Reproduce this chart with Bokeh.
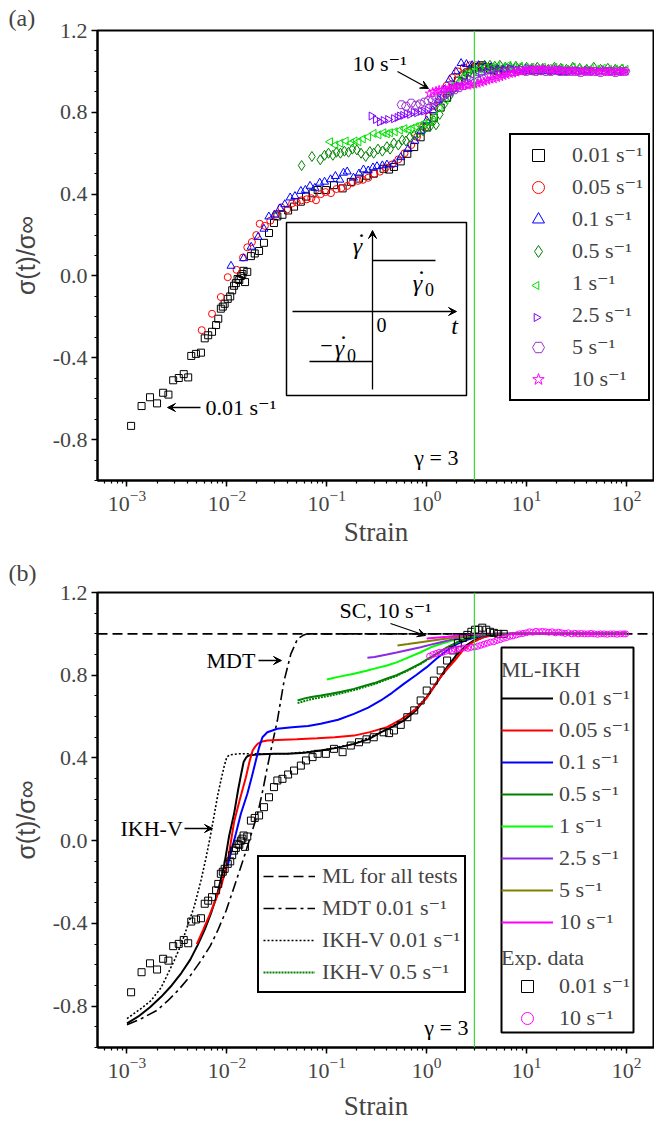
import numpy as np
from bokeh.plotting import figure
from bokeh.layouts import column
from bokeh.models import (Range1d, LogTicker, FixedTicker, CustomJSTickFormatter,
                          Span, Label, Arrow, VeeHead, Legend, LegendItem, BoxAnnotation)
from bokeh.embed import file_html
from bokeh.resources import INLINE

SERIF = "Liberation Serif, DejaVu Serif, serif"
SANS = "Liberation Sans"

# ---------------------------------------------------------------- data
rate_labels = ["0.01 s⁻¹", "0.05 s⁻¹", "0.1 s⁻¹", "0.5 s⁻¹", "1 s⁻¹", "2.5 s⁻¹", "5 s⁻¹", "10 s⁻¹"]

exp_001_x = [0.0011, 0.0014, 0.0017, 0.0020, 0.0023, 0.0026, 0.0029, 0.0033, 0.0037, 0.0041,
             0.0044, 0.0049, 0.0055, 0.0060, 0.0065, 0.0071, 0.0078, 0.0082, 0.0087, 0.0091,
             0.0095, 0.0102, 0.0108, 0.0113, 0.0118, 0.0123, 0.0128, 0.0133, 0.0138, 0.0143,
             0.0147, 0.0152, 0.0160, 0.0174, 0.0190, 0.0210, 0.0235, 0.0264, 0.0296, 0.032,
             0.036, 0.041, 0.047, 0.055, 0.062, 0.072, 0.081, 0.098, 0.118, 0.144,
             0.174, 0.21, 0.25, 0.295, 0.37, 0.42, 0.47, 0.55, 0.64, 0.75,
             0.87, 1.0, 1.18, 1.38, 1.6, 1.82, 2.05, 2.3, 2.55, 2.8,
             3.05, 3.3, 3.6, 3.95, 4.3, 4.7, 5.2, 5.9]
exp_001_y = [-0.733, -0.636, -0.593, -0.623, -0.571, -0.58, -0.51, -0.499, -0.48, -0.496,
             -0.391, -0.381, -0.375, -0.305, -0.29, -0.273, -0.24, -0.209, -0.16, -0.15,
             -0.136, -0.112, -0.10, -0.07, -0.048, -0.035, -0.015, -0.02, 0.0, 0.01,
             0.025, -0.03, 0.02, 0.097, 0.11, 0.122, 0.162, 0.21, 0.259, 0.291,
             0.299, 0.32, 0.339, 0.363, 0.388, 0.404, 0.42, 0.42, 0.444, 0.428,
             0.46, 0.476, 0.49, 0.5, 0.524, 0.52, 0.533, 0.56, 0.597, 0.63,
             0.678, 0.726, 0.774, 0.823, 0.871, 0.92, 0.955, 0.98, 0.995, 1.01,
             1.02, 1.02, 1.03, 1.02, 1.01, 1.005, 1.0, 1.0]

exp_005_x = [0.0056, 0.0071, 0.0087, 0.0102, 0.0125, 0.0145, 0.0160, 0.0178, 0.0197, 0.0213,
             0.0240, 0.0272, 0.031, 0.035, 0.040, 0.045, 0.050, 0.056, 0.063, 0.07,
             0.078, 0.087, 0.097, 0.11, 0.125, 0.14, 0.16, 0.18, 0.205, 0.23,
             0.26, 0.3, 0.34, 0.39, 0.45, 0.52, 0.6, 0.7, 0.8, 0.92,
             1.05, 1.2, 1.38, 1.58, 1.8, 2.05, 2.35, 2.7, 3.1, 3.6,
             4.2, 4.9, 5.8, 6.8, 8.0, 9.5, 11.5, 14, 17, 21, 26]
exp_005_y = [-0.265, -0.185, -0.103, -0.006, 0.03, 0.09, 0.14, 0.166, 0.2, 0.255,
             0.245, 0.27, 0.30, 0.335, 0.325, 0.355, 0.36, 0.37, 0.375, 0.38,
             0.37, 0.40, 0.41, 0.405, 0.425, 0.43, 0.44, 0.455, 0.465, 0.47,
             0.48, 0.5, 0.51, 0.53, 0.545, 0.57, 0.6, 0.64, 0.68, 0.73,
             0.78, 0.83, 0.88, 0.93, 0.97, 1.0, 1.02, 1.03, 1.03, 1.025,
             1.02, 1.015, 1.01, 1.01, 1.005, 1.0, 1.0, 1.0, 1.0, 1.0, 1.0]

exp_01_x = [0.011, 0.0147, 0.0175, 0.0205, 0.0235, 0.0263, 0.030, 0.034, 0.038, 0.043,
            0.048, 0.055, 0.061, 0.068, 0.076, 0.085, 0.095, 0.109, 0.122, 0.135,
            0.147, 0.16, 0.185, 0.21, 0.233, 0.26, 0.29, 0.318, 0.36, 0.4,
            0.47, 0.55, 0.65, 0.76, 0.88, 1.0, 1.15, 1.32, 1.5, 1.7,
            1.95, 2.21, 2.5, 2.85, 3.3, 3.8, 4.4, 5.1, 6.0, 7.0,
            8.3, 10, 12, 14.5, 18, 22, 27, 33, 40]
exp_01_y = [0.049, 0.086, 0.142, 0.19, 0.23, 0.29, 0.30, 0.33, 0.35, 0.383,
            0.39, 0.415, 0.42, 0.44, 0.43, 0.455, 0.46, 0.472, 0.488, 0.47,
            0.504, 0.51, 0.48, 0.50, 0.52, 0.515, 0.53, 0.536, 0.54, 0.544,
            0.547, 0.58, 0.62, 0.66, 0.71, 0.76, 0.81, 0.86, 0.91, 0.96,
            1.0, 1.04, 1.035, 1.03, 1.03, 1.02, 1.02, 1.015, 1.01, 1.01,
            1.005, 1.0, 1.0, 1.0, 1.0, 0.995, 1.0, 1.0, 1.0]

exp_05_x = [0.056, 0.071, 0.086, 0.095, 0.104, 0.115, 0.125, 0.137, 0.15, 0.165,
            0.18, 0.2, 0.22, 0.245, 0.27, 0.295, 0.325, 0.36, 0.4, 0.43,
            0.47, 0.52, 0.57, 0.62, 0.68, 0.75, 0.83, 0.92, 1.0, 1.08,
            1.18, 1.24, 1.35, 1.5, 1.7, 1.9, 2.15, 2.4, 2.7, 3.0,
            3.4, 3.8, 4.3, 4.8, 5.4, 6.1, 6.9, 7.8, 8.8, 10,
            11.3, 12.8, 14.5, 16.5, 19, 22, 25, 29, 34, 40,
            47, 55, 65, 77, 90]
exp_05_y = [0.54, 0.584, 0.568, 0.59, 0.60, 0.59, 0.605, 0.60, 0.61, 0.605,
            0.62, 0.616, 0.6, 0.584, 0.608, 0.6, 0.62, 0.61, 0.632, 0.62,
            0.65, 0.64, 0.665, 0.66, 0.68, 0.69, 0.7, 0.71, 0.729, 0.73,
            0.76, 0.739, 0.79, 0.84, 0.88, 0.92, 0.95, 0.98, 1.0, 1.01,
            1.02, 1.03, 1.03, 1.025, 1.03, 1.02, 1.02, 1.025, 1.015, 1.02,
            1.015, 1.02, 1.015, 1.01, 1.02, 1.015, 1.01, 1.02, 1.015, 1.01,
            1.02, 1.01, 1.015, 1.01, 1.01]

exp_1_x = [0.108, 0.122, 0.137, 0.155, 0.175, 0.19, 0.208, 0.23, 0.26, 0.295,
           0.33, 0.37, 0.4, 0.43, 0.48, 0.54, 0.6, 0.66, 0.71, 0.78,
           0.86, 0.95, 1.08, 1.2, 1.35, 1.55, 1.75, 2.0, 2.3, 2.6,
           3.0, 3.4, 3.9, 4.5, 5.1, 5.8, 6.6, 7.5, 8.6, 9.8,
           11.2, 12.8, 14.6, 16.7, 19, 22, 25, 29, 33, 38,
           44, 50, 58, 67, 77, 88, 98]
exp_1_y = [0.656, 0.64, 0.649, 0.66, 0.65, 0.66, 0.656, 0.67, 0.68, 0.697,
           0.69, 0.7, 0.695, 0.7, 0.705, 0.713, 0.72, 0.715, 0.721, 0.73,
           0.737, 0.745, 0.753, 0.78, 0.82, 0.86, 0.9, 0.94, 0.97, 0.99,
           1.0, 1.01, 1.02, 1.02, 1.025, 1.02, 1.03, 1.02, 1.025, 1.02,
           1.02, 1.015, 1.02, 1.015, 1.02, 1.015, 1.01, 1.02, 1.015, 1.01,
           1.015, 1.01, 1.015, 1.01, 1.01, 1.015, 1.01]

exp_25_x = [0.28, 0.31, 0.34, 0.37, 0.41, 0.47, 0.51, 0.54, 0.58, 0.63,
            0.68, 0.74, 0.8, 0.87, 0.94, 1.02, 1.14, 1.28, 1.45, 1.65,
            1.85, 2.1, 2.4, 2.7, 3.1, 3.5, 4.0, 4.6, 5.2, 6.0,
            6.8, 7.8, 8.9, 10.2, 11.7, 13.4, 15.3, 17.5, 20, 23,
            26, 30, 35, 40, 46, 53, 61, 70, 80, 92]
exp_25_y = [0.782, 0.765, 0.753, 0.76, 0.765, 0.769, 0.775, 0.782, 0.785, 0.793,
            0.79, 0.8, 0.798, 0.805, 0.806, 0.81, 0.83, 0.85, 0.87, 0.89,
            0.91, 0.93, 0.95, 0.965, 0.98, 0.99, 1.0, 1.005, 1.01, 1.01,
            1.015, 1.01, 1.01, 1.015, 1.01, 1.005, 1.01, 1.005, 1.01, 1.005,
            1.0, 1.005, 1.0, 1.005, 1.0, 1.0, 1.005, 1.0, 1.0, 1.0]

exp_5_x = [0.56, 0.62, 0.7, 0.78, 0.86, 0.95, 1.04, 1.15, 1.27, 1.4,
           1.55, 1.72, 1.9, 2.1, 2.35, 2.6, 2.9, 3.2, 3.6, 4.0,
           4.5, 5.0, 5.6, 6.3, 7.0, 7.9, 8.8, 9.9, 11.1, 12.4,
           13.9, 15.6, 17.5, 19.6, 22, 24.7, 27.7, 31, 34.8, 39,
           43.7, 49, 55, 61.7, 69.2, 77.6, 87, 97]
exp_5_y = [0.837, 0.83, 0.845, 0.835, 0.841, 0.85, 0.857, 0.86, 0.87, 0.88,
           0.89, 0.9, 0.91, 0.92, 0.93, 0.94, 0.95, 0.96, 0.965, 0.975,
           0.98, 0.985, 0.99, 0.995, 1.0, 1.0, 1.005, 1.0, 1.005, 1.0,
           1.005, 1.0, 1.0, 1.005, 1.0, 1.0, 1.0, 1.0, 0.995, 1.0,
           1.0, 1.0, 0.995, 1.0, 1.0, 0.995, 1.0, 1.0]

exp_10_x = [1.07, 1.15, 1.24, 1.33, 1.43, 1.54, 1.66, 1.78, 1.92, 2.07,
            2.23, 2.4, 2.58, 2.78, 3.0, 3.23, 3.48, 3.75, 4.04, 4.35,
            4.69, 5.05, 5.44, 5.86, 6.3, 6.8, 7.3, 7.9, 8.5, 9.2,
            9.9, 10.7, 11.5, 12.4, 13.4, 14.4, 15.5, 16.7, 18, 19.4,
            20.9, 22.5, 24.3, 26.2, 28.2, 30.4, 32.7, 35.3, 38, 41,
            44.2, 47.6, 51.3, 55.3, 59.6, 64.2, 69.2, 74.6, 80.4, 86.6, 93.3, 98]
exp_10_y = [0.892, 0.9, 0.905, 0.91, 0.91, 0.915, 0.92, 0.918, 0.925, 0.927,
            0.93, 0.932, 0.93, 0.935, 0.936, 0.94, 0.945, 0.95, 0.955, 0.96,
            0.962, 0.968, 0.972, 0.978, 0.982, 0.988, 0.99, 0.995, 1.0, 1.002,
            1.005, 1.01, 1.008, 1.012, 1.01, 1.012, 1.01, 1.008, 1.01, 1.005,
            1.008, 1.005, 1.002, 1.005, 1.0, 1.003, 1.0, 1.002, 1.0, 1.0,
            1.002, 1.0, 0.998, 1.0, 1.0, 0.998, 1.0, 1.0, 0.998, 1.0, 1.0, 1.0]

ikh_001_x = [0.001, 0.0013, 0.0017, 0.0022, 0.0028, 0.0035, 0.0043, 0.0051, 0.006, 0.0069,
             0.008, 0.0094, 0.0105, 0.0118, 0.013, 0.0140, 0.0147, 0.0155, 0.016, 0.017,
             0.019, 0.022, 0.03, 0.0405, 0.06, 0.087, 0.13, 0.187, 0.26, 0.347,
             0.45, 0.59, 0.78, 1.0, 1.25, 1.6, 2.0, 2.5, 3.0, 4.0, 5.0, 7.0, 10, 20, 50, 100]
ikh_001_y = [-0.883, -0.85, -0.805, -0.755, -0.7, -0.64, -0.575, -0.505, -0.43, -0.354,
             -0.26, -0.12, 0.02, 0.13, 0.25, 0.33, 0.38, 0.40, 0.408, 0.413,
             0.415, 0.418, 0.42, 0.42, 0.425, 0.436, 0.45, 0.468, 0.49, 0.524,
             0.55, 0.581, 0.63, 0.694, 0.76, 0.839, 0.9, 0.945, 0.97, 0.99, 0.996, 1.0, 1.0, 1.0, 1.0, 1.0]

ikh_005_x = [0.005, 0.0058, 0.0067, 0.0078, 0.009, 0.0102, 0.0118, 0.0135, 0.0155, 0.0168,
             0.0181, 0.0192, 0.0203, 0.022, 0.0254, 0.032, 0.05, 0.08, 0.12, 0.187,
             0.27, 0.4, 0.55, 0.75, 1.0, 1.29, 1.6, 1.9, 2.3, 2.8,
             3.5, 4.5, 6, 8, 12, 20, 50, 100]
ikh_005_y = [-0.50, -0.43, -0.36, -0.28, -0.2, -0.1, 0.09, 0.2, 0.307, 0.38,
             0.436, 0.455, 0.468, 0.478, 0.484, 0.487, 0.49, 0.495, 0.5, 0.508,
             0.525, 0.549, 0.585, 0.63, 0.69, 0.774, 0.83, 0.87, 0.92, 0.955,
             0.98, 0.993, 0.998, 1.0, 1.0, 1.0, 1.0, 1.0]

ikh_01_x = [0.0102, 0.0112, 0.0123, 0.0138, 0.016, 0.0178, 0.0195, 0.021, 0.0227, 0.0254,
            0.032, 0.045, 0.065, 0.087, 0.13, 0.187, 0.26, 0.347, 0.45, 0.59,
            0.78, 1.0, 1.25, 1.6, 2.0, 2.5, 3.0, 4.0, 5.0, 7, 10, 20, 50, 100]
ikh_01_y = [-0.12, -0.04, 0.033, 0.13, 0.226, 0.31, 0.388, 0.45, 0.5, 0.524,
            0.541, 0.548, 0.555, 0.565, 0.585, 0.613, 0.643, 0.678, 0.715, 0.758,
            0.8, 0.839, 0.88, 0.92, 0.95, 0.97, 0.982, 0.993, 0.998, 1.0, 1.0, 1.0, 1.0, 1.0]

ikh_05_x = [0.051, 0.06, 0.07, 0.087, 0.11, 0.14, 0.187, 0.25, 0.3, 0.4,
            0.5, 0.65, 0.87, 1.1, 1.35, 1.6, 2.0, 2.5, 3.0, 4.0, 5.0, 7, 10, 20, 50, 100]
ikh_05_y = [0.678, 0.688, 0.695, 0.702, 0.71, 0.72, 0.734, 0.752, 0.762, 0.784,
            0.8, 0.826, 0.857, 0.888, 0.913, 0.935, 0.958, 0.977, 0.987, 0.996, 0.999, 1.0, 1.0, 1.0, 1.0, 1.0]

ikh_1_x = [0.1, 0.13, 0.187, 0.25, 0.3, 0.4, 0.5, 0.65, 0.87, 1.1, 1.35,
           1.6, 2.0, 2.5, 3.0, 4.0, 5.0, 7, 10, 20, 50, 100]
ikh_1_y = [0.779, 0.792, 0.807, 0.822, 0.832, 0.847, 0.862, 0.885, 0.911, 0.935, 0.95,
           0.96, 0.975, 0.987, 0.993, 0.998, 1.0, 1.0, 1.0, 1.0, 1.0, 1.0]

ikh_25_x = [0.255, 0.3, 0.4, 0.5, 0.65, 0.87, 1.1, 1.35, 1.74, 2.2, 2.7, 3.5, 5, 7, 10, 20, 50, 100]
ikh_25_y = [0.884, 0.888, 0.9, 0.91, 0.922, 0.935, 0.948, 0.958, 0.971, 0.983, 0.991, 0.997,
            1.0, 1.0, 1.0, 1.0, 1.0, 1.0]

ikh_5_x = [0.51, 0.65, 0.87, 1.1, 1.35, 1.74, 2.2, 2.7, 3.5, 5, 7, 10, 20, 50, 100]
ikh_5_y = [0.944, 0.951, 0.96, 0.967, 0.973, 0.98, 0.987, 0.992, 0.997, 1.0, 1.0, 1.0, 1.0, 1.0, 1.0]

ikh_10_x = [1.0, 1.3, 1.6, 1.9, 2.3, 2.8, 3.5, 5, 7, 10, 20, 50, 100]
ikh_10_y = [0.977, 0.982, 0.986, 0.99, 0.993, 0.996, 0.998, 1.0, 1.0, 1.0, 1.0, 1.0, 1.0]

ml_level = 1.0
mdt_001_x = [0.001, 0.0014, 0.002, 0.00255, 0.0033, 0.0042, 0.0055, 0.0068, 0.0081, 0.0098,
             0.0118, 0.0135, 0.0152, 0.018, 0.0203, 0.0228, 0.0254, 0.0285, 0.032, 0.0374,
             0.0437, 0.051, 0.058, 0.064, 0.08, 0.1, 0.3, 1, 3, 10, 30, 100]
mdt_001_y = [-0.89, -0.86, -0.82, -0.775, -0.72, -0.66, -0.58, -0.51, -0.434, -0.34,
             -0.225, -0.14, -0.064, 0.05, 0.13, 0.24, 0.355, 0.47, 0.581, 0.774,
             0.903, 0.976, 0.993, 1.0, 1.0, 1.0, 1.0, 1.0, 1.0, 1.0, 1.0, 1.0]

ikhv_001_x = [0.001, 0.0014, 0.00174, 0.0022, 0.00297, 0.0035, 0.004, 0.0047, 0.0055, 0.0062,
              0.0069, 0.0075, 0.0081, 0.0087, 0.0094, 0.01, 0.0107, 0.0128, 0.02, 0.04,
              0.087, 0.187, 0.347, 0.59, 1.0, 1.6, 2.5, 4, 7, 10, 30, 100]
ikhv_001_y = [-0.86, -0.81, -0.773, -0.71, -0.58, -0.5, -0.418, -0.32, -0.193, -0.08,
              0.033, 0.13, 0.22, 0.29, 0.36, 0.405, 0.415, 0.42, 0.42, 0.42,
              0.436, 0.468, 0.524, 0.581, 0.694, 0.839, 0.945, 0.99, 1.0, 1.0, 1.0, 1.0]

ikhv_05_x = [0.051, 0.06, 0.07, 0.087, 0.11, 0.14, 0.187, 0.25, 0.3, 0.4,
             0.5, 0.65, 0.87, 1.1, 1.35, 1.6, 2.0, 2.5, 3.0, 4.0, 5.0, 7, 10, 20, 50, 100]
ikhv_05_y = [0.665, 0.675, 0.684, 0.693, 0.702, 0.713, 0.728, 0.746, 0.757, 0.78,
             0.797, 0.823, 0.855, 0.886, 0.911, 0.934, 0.957, 0.976, 0.987, 0.996, 0.999, 1.0, 1.0, 1.0, 1.0, 1.0]

Y_TICKS = [-0.8, -0.4, 0.0, 0.4, 0.8, 1.2]
GAMMA_MARK = 3.0

# ---------------------------------------------------------------- geometry (page pixels)
LX0, LX1 = -3.295, 2.28
X_MIN, X_MAX = 10 ** LX0, 10 ** LX1
Y_MIN, Y_MAX = -1.0, 1.2
FL, FW = 97, 557
A_TOP, A_H, A_FIG_H = 30, 450, 550
B_BORDER_TOP, B_H, TOTAL_H = 42, 455, 1126
B_TOP = A_FIG_H + B_BORDER_TOP


def fx(px):
    return 10 ** (LX0 + (px - FL) / FW * (LX1 - LX0))


def fya(py):
    return Y_MAX - (py - A_TOP) / A_H * (Y_MAX - Y_MIN)


def fyb(py):
    return Y_MAX - (py - B_TOP) / B_H * (Y_MAX - Y_MIN)


def base_fig(frame_h, top, bottom, title, title_standoff, xlabel_standoff):
    p = figure(x_axis_type="log", x_range=Range1d(X_MIN, X_MAX), y_range=Range1d(Y_MIN, Y_MAX),
               frame_width=FW, frame_height=frame_h, min_border_left=FL, min_border_right=0,
               min_border_top=top, min_border_bottom=bottom, output_backend="svg",
               toolbar_location=None, title=title)
    p.title.align = "left"
    p.title.offset = -89
    p.title.standoff = title_standoff
    p.title.text_font = SERIF
    p.title.text_font_size = "24px"
    p.title.text_font_style = "normal"
    p.grid.visible = False
    p.outline_line_color = "black"
    p.outline_line_width = 2
    p.outline_line_alpha = 1
    xa, ya = p.xaxis[0], p.yaxis[0]
    xa.ticker = LogTicker(num_minor_ticks=10)
    minors = [round(v, 1) for v in np.arange(-1.0, 1.21, 0.1)]
    ya.ticker = FixedTicker(ticks=Y_TICKS, minor_ticks=minors)
    ya.formatter = CustomJSTickFormatter(code="return tick.toFixed(1);")
    for ax in (xa, ya):
        ax.axis_line_width = 2
        ax.major_tick_line_width = 1.5
        ax.minor_tick_line_width = 1.2
        ax.major_tick_out = 6
        ax.major_tick_in = 0
        ax.minor_tick_out = 3
        ax.minor_tick_in = 0
        ax.major_label_text_font = SERIF
        ax.major_label_text_font_size = "22px"
        ax.major_label_standoff = 4
        ax.axis_label_text_font_style = "normal"
    xa.axis_label = "Strain"
    xa.axis_label_text_font = SERIF
    xa.axis_label_text_font_size = "27px"
    xa.axis_label_standoff = xlabel_standoff
    ya.axis_label = "σ(t)/σ∞"
    ya.axis_label_text_font = SANS
    ya.axis_label_text_font_size = "25px"
    ya.axis_label_standoff = 10
    p.add_layout(Span(location=GAMMA_MARK, dimension="height", line_color="#33DD33", line_width=1.2))
    return p


def txt(p, x, y, text, size="22px", align="left", style="normal"):
    p.add_layout(Label(x=x, y=y, text=text, text_font=SERIF, text_font_size=size,
                       text_align=align, text_baseline="middle", text_font_style=style,
                       text_color="black"))


def arrow(p, x0, y0, x1, y1):
    p.add_layout(Arrow(x_start=x0, y_start=y0, x_end=x1, y_end=y1, line_width=1.3,
                       line_color="black",
                       end=VeeHead(size=8, fill_color="black", line_color="black", line_width=1)))


# ---------------------------------------------------------------- panel (a)
pa = base_fig(A_H, A_TOP, A_FIG_H - A_TOP - A_H, "(a)", 0, 3)

series_a = [
    (exp_001_x, exp_001_y, "square", "black", 7, 0.0),
    (exp_005_x, exp_005_y, "circle", "#FF0000", 7, 0.0),
    (exp_01_x, exp_01_y, "triangle", "#0000FF", 8, 0.0),
    (exp_05_x, exp_05_y, "diamond", "#008000", 10, 0.0),
    (exp_1_x, exp_1_y, "triangle", "#00E000", 8, np.pi / 2),
    (exp_25_x, exp_25_y, "triangle", "#8000FF", 8, -np.pi / 2),
    (exp_5_x, exp_5_y, "hex", "#9932CC", 9, 0.0),
    (exp_10_x, exp_10_y, "star", "#FF00FF", 9, 0.0),
]
rend_a = []
LEG_A_LEFT, LEG_A_TOP, LEG_A_PAD, LEG_A_GW, ROW_H, ROW_SP = 509, 137, 5, 44, 30, 2
for i, (xs, ys, mk, col, sz, ang) in enumerate(series_a):
    n = min(len(xs), len(ys))
    r = pa.scatter(xs[:n], ys[:n], marker=mk, size=sz, angle=ang, line_color=col,
                   fill_color=None, line_width=1)
    if ang != 0.0:
        # legend keys are not rotated by Bokeh: draw the rotated key under a transparent legend
        cy = LEG_A_TOP + LEG_A_PAD + ROW_H / 2 + i * (ROW_H + ROW_SP)
        cx = LEG_A_LEFT + LEG_A_PAD + LEG_A_GW / 2
        pa.scatter([fx(cx)], [fya(cy)], marker=mk, size=sz, angle=ang, line_color=col,
                   fill_color=None, line_width=1)
        r = pa.scatter(x=[], y=[], marker=mk, size=sz, line_alpha=0, fill_alpha=0)
    rend_a.append(r)

leg_a_h = 2 * LEG_A_PAD + 8 * ROW_H + 7 * ROW_SP
leg_a = Legend(items=[LegendItem(label=l, renderers=[r]) for l, r in zip(rate_labels, rend_a)],
               location=(LEG_A_LEFT - FL, (A_TOP + A_H) - (LEG_A_TOP + leg_a_h)),
               label_text_font=SERIF, label_text_font_size="22px",
               glyph_width=LEG_A_GW, glyph_height=ROW_H, label_height=ROW_H, spacing=ROW_SP,
               padding=LEG_A_PAD, label_standoff=12, border_line_color="black",
               border_line_width=2.5, border_line_alpha=1, background_fill_alpha=0, margin=0)
pa.add_layout(leg_a)

# inset schematic of the shear-rate step
pa.add_layout(BoxAnnotation(left=fx(286), right=fx(466), top=fya(222), bottom=fya(395),
                            fill_color=None, fill_alpha=0, line_color="black", line_width=1.5,
                            line_alpha=1))
arrow(pa, fx(372), fya(389), fx(372), fya(230))
arrow(pa, fx(292), fya(311), fx(456), fya(311))
pa.segment(x0=[fx(372), fx(309)], y0=[fya(260), fya(361)], x1=[fx(435), fx(372)],
           y1=[fya(260), fya(361)], line_color="black", line_width=1.5)
txt(pa, fx(357), fya(245), "γ", "24px", "center", "italic")
txt(pa, fx(361), fya(234), "·", "24px", "center")
txt(pa, fx(417), fya(282), "γ", "24px", "center", "italic")
txt(pa, fx(421), fya(271), "·", "24px", "center")
txt(pa, fx(429), fya(289), "0", "18px", "center")
txt(pa, fx(381), fya(324), "0", "20px", "center")
txt(pa, fx(454), fya(325), "t", "24px", "center", "italic")
txt(pa, fx(326), fya(345), "−", "22px", "center")
txt(pa, fx(339), fya(347), "γ", "24px", "center", "italic")
txt(pa, fx(343), fya(336), "·", "24px", "center")
txt(pa, fx(351), fya(355), "0", "18px", "center")

txt(pa, fx(352), fya(63), "10 s⁻¹")
arrow(pa, fx(397), fya(71), fx(428), fya(88))
txt(pa, fx(205), fya(407), "0.01 s⁻¹")
arrow(pa, fx(200), fya(407), fx(167), fya(407))
txt(pa, fx(458), fya(457), "γ = 3", align="right")

# ---------------------------------------------------------------- panel (b)
pb = base_fig(B_H, B_BORDER_TOP, TOTAL_H - A_FIG_H - B_BORDER_TOP - B_H, "(b)", 14, 10)

r_ml = pb.line([X_MIN, X_MAX], [ml_level, ml_level], line_color="black", line_width=1.6,
               line_dash="10 5")
r_mdt = pb.line(mdt_001_x, mdt_001_y, line_color="black", line_width=1.6, line_dash="11 4 3 4")
r_ikhv1 = pb.line(ikhv_001_x, ikhv_001_y, line_color="black", line_width=1.6, line_dash="2 2")

ikh_series = [
    (ikh_001_x, ikh_001_y, "black"),
    (ikh_005_x, ikh_005_y, "#FF0000"),
    (ikh_01_x, ikh_01_y, "#0000FF"),
    (ikh_05_x, ikh_05_y, "#008000"),
    (ikh_1_x, ikh_1_y, "#00FF00"),
    (ikh_25_x, ikh_25_y, "#8A2BE2"),
    (ikh_5_x, ikh_5_y, "#808000"),
    (ikh_10_x, ikh_10_y, "#FF00FF"),
]
rend_b = []
for xs, ys, col in ikh_series:
    n = min(len(xs), len(ys))
    rend_b.append(pb.line(xs[:n], ys[:n], line_color=col, line_width=2))

r_ikhv5 = pb.line(ikhv_05_x, ikhv_05_y, line_color="#008000", line_width=2, line_dash="2 1")

r_e1 = pb.scatter(exp_001_x, exp_001_y, marker="square", size=7, line_color="black",
                  fill_color=None, line_width=1)
r_e10 = pb.scatter(exp_10_x, exp_10_y, marker="circle", size=6, line_color="#FF00FF",
                   fill_color=None, line_width=1)

pb.add_layout(BoxAnnotation(left=fx(501), right=fx(633), top=fyb(647), bottom=fyb(1032),
                            fill_color="white", fill_alpha=1, line_color="black",
                            line_width=2, line_alpha=1))

common = dict(label_text_font=SERIF, label_text_font_size="22px", glyph_width=52,
              glyph_height=ROW_H, label_height=ROW_H, spacing=ROW_SP, padding=4, label_standoff=6,
              title_text_font=SERIF, title_text_font_size="22px", title_text_font_style="normal",
              title_standoff=0, margin=0)

leg_b1 = Legend(items=[LegendItem(label=l, renderers=[r]) for l, r in zip(rate_labels, rend_b)],
                title="ML-IKH", location=(404, 110), border_line_color=None,
                background_fill_alpha=0, **common)
leg_b2 = Legend(items=[LegendItem(label=rate_labels[0], renderers=[r_e1]),
                       LegendItem(label=rate_labels[7], renderers=[r_e10])],
                title="Exp. data", location=(404, 14), border_line_color=None,
                background_fill_alpha=0, **common)
pb.add_layout(leg_b1)
pb.add_layout(leg_b2)

common3 = dict(common)
common3["label_standoff"] = 7
leg_b3 = Legend(items=[LegendItem(label="ML for all tests", renderers=[r_ml]),
                       LegendItem(label="MDT 0.01 s⁻¹", renderers=[r_mdt]),
                       LegendItem(label="IKH-V 0.01 s⁻¹", renderers=[r_ikhv1]),
                       LegendItem(label="IKH-V 0.5 s⁻¹", renderers=[r_ikhv5])],
                location=(160, 54), border_line_color="black", border_line_width=2,
                border_line_alpha=1, background_fill_color="white", background_fill_alpha=1,
                **common3)
pb.add_layout(leg_b3)

txt(pb, fx(339), fyb(610), "SC, 10 s⁻¹")
arrow(pb, fx(390), fyb(623), fx(425), fyb(635))
txt(pb, fx(206), fyb(660), "MDT")
arrow(pb, fx(258), fyb(660), fx(281), fyb(660))
txt(pb, fx(120), fyb(828), "IKH-V")
arrow(pb, fx(184), fyb(828), fx(212), fyb(828))
txt(pb, fx(468), fyb(1027), "γ = 3", align="right")

layout = column(pa, pb, spacing=0)
open("out.html", "w").write(file_html(layout, INLINE))
